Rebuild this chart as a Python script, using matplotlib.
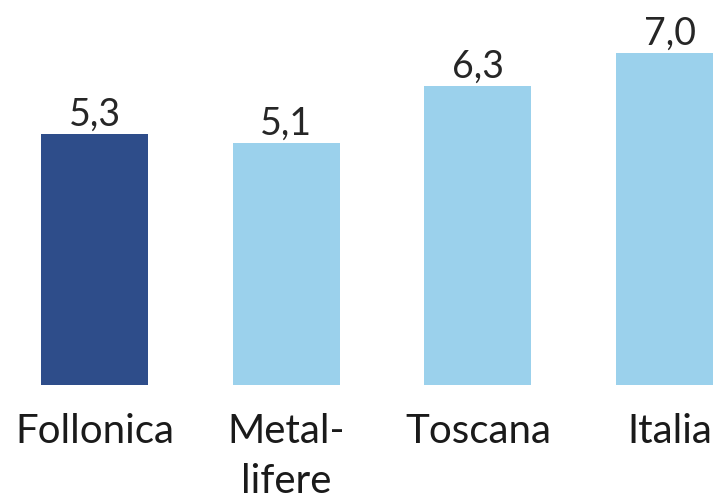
import matplotlib
matplotlib.use("Agg")
import matplotlib.pyplot as plt

# dati
categorie = ["Follonica", "Metal-\nlifere", "Toscana", "Italia"]
valori = [5.3, 5.1, 6.3, 7.0]
colori = ["#2E4D8A", "#9BD1EC", "#9BD1EC", "#9BD1EC"]

plt.rcParams['font.family'] = ['Lato', 'DejaVu Sans']

fig = plt.figure(figsize=(7.13, 4.99), dpi=100)
ax = fig.add_axes([0, 0, 1, 1])

x = range(len(valori))
ax.bar(x, valori, width=0.558, color=colori)

for xi, v in zip(x, valori):
    ax.text(xi, v + 0.17, f"{v:.1f}".replace(".", ","), ha="center", va="baseline",
            fontsize=27, color="#262626")

# etichette: una riga alla volta, 50 px tra le righe
for xi, c in zip(x, categorie):
    for i, riga in enumerate(c.split("\n")):
        ax.text(xi, -1.224 - i * 1.055, riga, ha="center", va="baseline",
                fontsize=29, color="#1a1a1a")

ax.set_xlim(-0.493, 3.226)
ax.set_ylim(-2.405, 8.12)
ax.axis("off")

fig.savefig("out.png", dpi=100)
